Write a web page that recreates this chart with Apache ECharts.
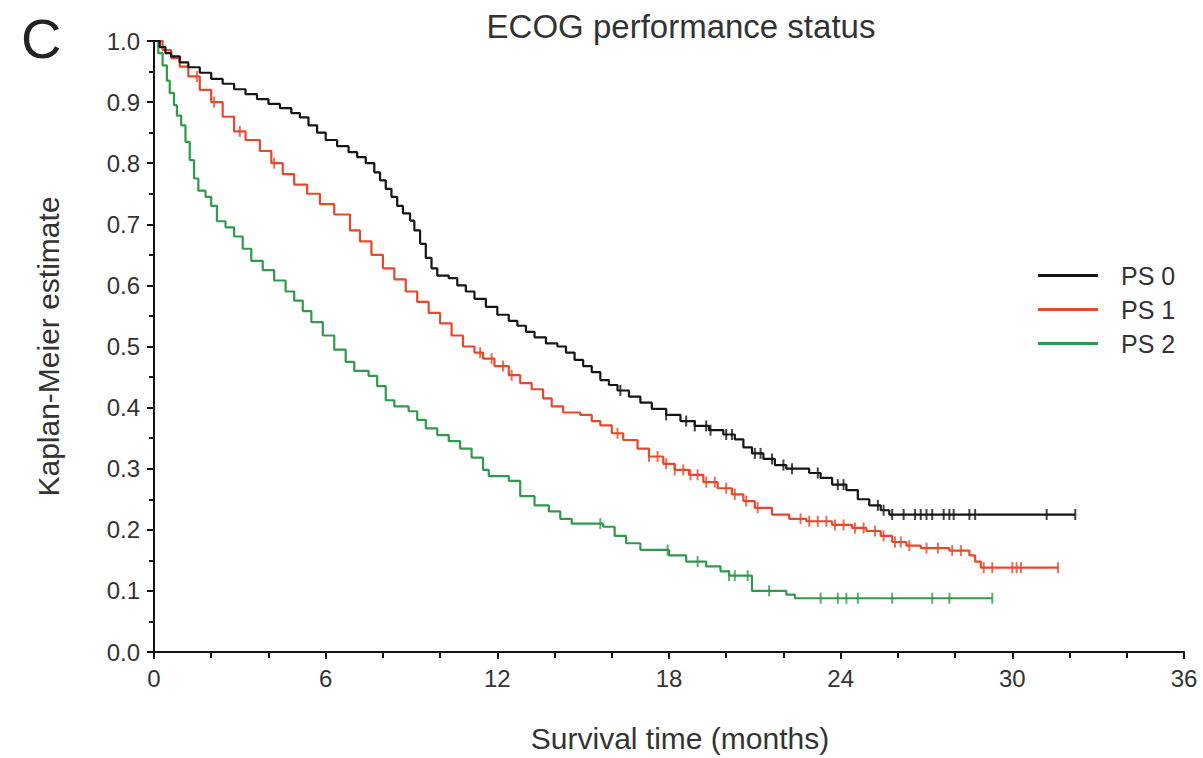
<!DOCTYPE html>
<html>
<head>
<meta charset="utf-8">
<script src="https://cdn.jsdelivr.net/npm/echarts@6/dist/echarts.min.js"></script>
<style>
html,body{margin:0;padding:0;background:#fff;}
#chart{width:1203px;height:758px;}
</style>
</head>
<body>
<div id="chart"></div>
<script>
// ---- Data (time in months, Kaplan-Meier estimate) ----
const seriesNames = ['PS 0', 'PS 1', 'PS 2'];
const xTicks = [0, 6, 12, 18, 24, 30, 36];

const ps0Times = [0,0.2,0.4,0.6,0.9,1.2,1.6,2.0,2.4,2.8,3.2,3.6,4.0,4.4,4.8,5.1,5.4,5.7,6.0,6.4,6.8,7.1,7.4,7.7,7.9,8.1,8.3,8.5,8.7,8.95,9.1,9.3,9.5,9.7,9.9,10.3,10.6,10.9,11.2,11.6,12.0,12.4,12.7,13.0,13.3,13.7,14.1,14.4,14.7,15.0,15.3,15.6,15.9,16.2,16.6,17.0,17.4,17.9,18.4,18.9,19.4,19.9,20.3,20.6,20.9,21.3,21.7,22.1,22.9,23.3,23.7,24.2,24.6,25.0,25.4,25.7];
const ps0Surv  = [1.0,0.99,0.98,0.975,0.965,0.957,0.948,0.938,0.93,0.921,0.913,0.905,0.897,0.89,0.882,0.875,0.862,0.85,0.838,0.828,0.818,0.81,0.8,0.785,0.772,0.758,0.745,0.73,0.718,0.706,0.69,0.668,0.645,0.628,0.616,0.612,0.6,0.59,0.578,0.565,0.552,0.542,0.534,0.524,0.515,0.505,0.5,0.49,0.478,0.468,0.458,0.445,0.437,0.428,0.418,0.408,0.398,0.388,0.378,0.37,0.363,0.356,0.348,0.335,0.325,0.316,0.306,0.3,0.293,0.285,0.274,0.265,0.25,0.24,0.232,0.225];
const ps0Censor = [16.3,17.9,18.6,18.9,19.3,19.45,20.0,20.2,21.0,21.2,21.6,22.0,22.3,23.2,23.9,24.1,25.3,25.5,25.8,26.2,26.6,26.8,27.0,27.2,27.6,27.8,27.95,28.5,28.7,31.2,32.2];

const ps1Times = [0,0.3,0.6,0.9,1.2,1.6,2.0,2.4,2.8,3.2,3.7,4.1,4.5,4.9,5.35,5.8,6.3,6.85,7.2,7.6,8.0,8.4,8.8,9.2,9.6,10.0,10.4,10.8,11.2,11.5,11.9,12.4,12.8,13.2,13.6,13.9,14.3,14.9,15.3,15.6,16.0,16.4,16.9,17.3,17.8,18.2,18.7,19.2,19.7,20.2,20.6,21.0,21.6,22.2,22.8,23.7,24.4,24.9,25.4,25.8,26.3,26.8,27.8,28.5,28.7,28.9];
const ps1Surv  = [1.0,0.985,0.972,0.958,0.942,0.92,0.9,0.876,0.852,0.838,0.82,0.8,0.782,0.765,0.75,0.733,0.716,0.69,0.672,0.65,0.628,0.61,0.59,0.573,0.555,0.538,0.518,0.5,0.49,0.48,0.468,0.453,0.44,0.43,0.415,0.402,0.392,0.388,0.378,0.371,0.358,0.347,0.333,0.32,0.308,0.298,0.29,0.278,0.268,0.258,0.247,0.236,0.225,0.218,0.214,0.208,0.203,0.198,0.19,0.18,0.174,0.17,0.166,0.158,0.148,0.138];
const ps1Censor = [1.5,2.1,3.0,4.2,11.4,11.8,12.2,12.5,16.2,17.3,17.6,17.9,18.2,18.5,18.75,19.0,19.3,19.6,20.0,20.3,20.7,21.1,22.6,22.9,23.2,23.5,23.8,24.1,24.5,24.8,25.2,25.5,25.9,26.1,26.4,27.0,27.4,27.9,28.2,29.0,29.3,30.0,30.15,30.3,31.6];

const ps2Times = [0,0.15,0.3,0.45,0.55,0.7,0.8,0.95,1.1,1.25,1.4,1.55,1.8,2.0,2.2,2.5,2.8,3.1,3.4,3.8,4.2,4.6,4.9,5.2,5.5,5.9,6.3,6.7,7.0,7.5,7.8,8.1,8.4,8.9,9.2,9.5,9.9,10.3,10.7,11.1,11.5,11.7,12.4,12.8,13.3,13.8,14.2,14.6,15.7,16.1,16.5,17.0,18.0,18.6,19.3,19.8,20.1,20.9,22.1,22.4];
const ps2Surv  = [1.0,0.98,0.96,0.935,0.915,0.895,0.878,0.862,0.835,0.805,0.775,0.755,0.745,0.73,0.705,0.695,0.68,0.66,0.64,0.625,0.608,0.59,0.575,0.558,0.54,0.518,0.495,0.475,0.46,0.452,0.435,0.412,0.402,0.394,0.38,0.366,0.355,0.345,0.333,0.318,0.298,0.288,0.28,0.255,0.24,0.23,0.218,0.21,0.205,0.19,0.178,0.167,0.158,0.148,0.14,0.132,0.125,0.1,0.094,0.088];
const ps2Censor = [15.6,17.95,19.0,20.1,20.3,20.75,21.5,23.3,23.9,24.2,24.6,25.8,27.2,27.8,29.3];

const colors = ['#141414', '#e9472a', '#2f9a4b'];

// ---- helpers ----
function survAt(times, surv, t) {
  let v = surv[0];
  for (let i = 0; i < times.length; i++) { if (times[i] <= t) v = surv[i]; else break; }
  return v;
}
function curve(times, surv, censor) {
  const pts = times.map((t, i) => [t, surv[i]]);
  const end = Math.max(...censor);
  if (end > times[times.length - 1]) pts.push([end, surv[surv.length - 1]]);
  return pts;
}
function marks(times, surv, censor) {
  return censor.map(t => [t, survAt(times, surv, t)]);
}

const groups = [
  [ps0Times, ps0Surv, ps0Censor],
  [ps1Times, ps1Surv, ps1Censor],
  [ps2Times, ps2Surv, ps2Censor]
];

const series = [];
groups.forEach((g, i) => {
  series.push({
    name: seriesNames[i], type: 'line', step: 'end',
    data: curve(g[0], g[1], g[2]),
    symbol: 'none', showSymbol: false,
    lineStyle: { color: colors[i], width: 2.2 },
    itemStyle: { color: colors[i] },
    z: 3 - i, animation: false
  });
  series.push({
    name: seriesNames[i] + ' censored', type: 'scatter',
    data: marks(g[0], g[1], g[2]),
    symbol: 'rect', symbolSize: [2, 11],
    itemStyle: { color: colors[i] },
    z: 3 - i, animation: false, silent: true
  });
});

const font = '"Liberation Sans", Arial, sans-serif';
const chart = echarts.init(document.getElementById('chart'), null, { renderer: 'svg' });
chart.setOption({
  backgroundColor: '#ffffff',
  animation: false,
  graphic: [
    { type: 'text', left: 21, top: 10, style: { text: 'C', fontSize: 56, fontFamily: font, fill: '#222' } },
    { type: 'text', x: 681, y: 10, style: { text: 'ECOG performance status', fontSize: 33, fontFamily: font, fill: '#333', textAlign: 'center' } }
  ],
  legend: {
    data: seriesNames, orient: 'vertical', left: 1033, top: 258,
    icon: 'rect', itemWidth: 60, itemHeight: 3, itemGap: 9,
    textStyle: { fontSize: 25, fontFamily: font, color: '#333', padding: [0, 0, 0, 18] }
  },
  grid: { left: 154, right: 19, top: 41, bottom: 103, containLabel: false },
  xAxis: {
    type: 'value', min: 0, max: 36, interval: 6, offset: 5,
    name: 'Survival time (months)', nameLocation: 'middle', nameGap: 66,
    nameTextStyle: { fontSize: 30, fontFamily: font, color: '#333', padding: [0, 0, 0, 22] },
    axisLine: { show: true, lineStyle: { color: '#111', width: 2 } },
    axisTick: { show: true, length: 7, lineStyle: { color: '#111', width: 2 } },
    minorTick: { show: true, splitNumber: 3, length: 6, lineStyle: { color: '#111', width: 2 } },
    axisLabel: { fontSize: 24, fontFamily: font, color: '#333', margin: 9 },
    splitLine: { show: false }
  },
  yAxis: {
    type: 'value', min: 0, max: 1, interval: 0.1, offset: 5,
    name: 'Kaplan-Meier estimate', nameLocation: 'middle', nameGap: 86,
    nameTextStyle: { fontSize: 30, fontFamily: font, color: '#333' },
    axisLine: { show: true, lineStyle: { color: '#111', width: 2 } },
    axisTick: { show: true, length: 7, lineStyle: { color: '#111', width: 2 } },
    minorTick: { show: true, splitNumber: 2, length: 5, lineStyle: { color: '#111', width: 2 } },
    axisLabel: { fontSize: 24, fontFamily: font, color: '#333', margin: 9, formatter: v => v.toFixed(1) },
    splitLine: { show: false }
  },
  series: series
});
</script>
</body>
</html>
